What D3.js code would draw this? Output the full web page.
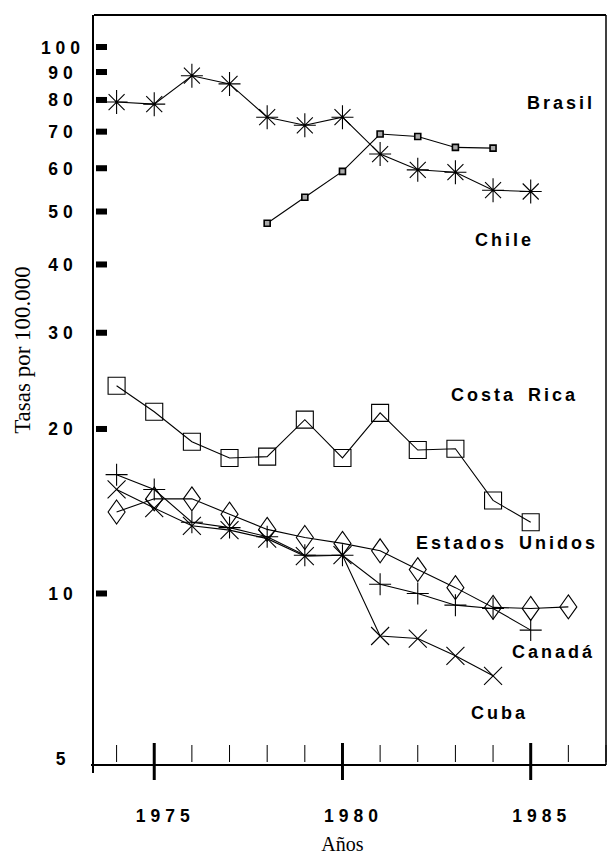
<!DOCTYPE html>
<html>
<head>
<meta charset="utf-8">
<script src="https://cdn.jsdelivr.net/npm/d3@7/dist/d3.min.js"></script>
<style>
  body { margin: 0; background: #fff; }
</style>
</head>
<body>
<svg id="canvas"></svg>
<script>
// tasas por 100.000, escala logaritmica
let years      = [1974, 1975, 1976, 1977, 1978, 1979, 1980, 1981, 1982, 1983, 1984, 1985, 1986]
let brasil     = [79.3, 78.6, 88.6, 85.6, 74.4, 71.9, 74.4, 63.7, 59.6, 59.0, 54.7, 54.4, null]
let chile      = [null, null, null, null, 47.6, 53.1, 59.2, 69.3, 68.6, 65.5, 65.3, null, null]
let costaRica  = [24.0, 21.5, 18.95, 17.7, 17.8, 20.8, 17.7, 21.4, 18.3, 18.4, 14.8, 13.5, null]
let eeuu       = [14.1, 14.9, 14.9, 13.97, 13.1, 12.66, 12.35, 11.97, 11.06, 10.25, 9.43, 9.39, 9.45]
let canada     = [16.5, 15.5, 13.5, 13.2, 12.7, 11.75, 11.75, 10.4, 10.0, 9.52, 9.39, 8.57, null]
let cuba       = [15.5, 14.33, 13.3, 13.06, 12.6, 11.7, 11.75, 8.36, 8.27, 7.69, 7.07, null, null]

let yTicks     = [5, 10, 20, 30, 40, 50, 60, 70, 80, 90, 100]
let xMajor     = [1975, 1980, 1985]
let xMinor     = [1974, 1976, 1977, 1978, 1979, 1981, 1982, 1983, 1984, 1986, 1987]

let seriesNames = ["Brasil", "Chile", "Costa Rica", "Estados Unidos", "Canadá", "Cuba"]

let width = 611
let height = 856
let plotTop = 15
let plotBottom = 765
let plotLeft = 94
let plotRight = 606

let canvas = d3.select("#canvas")
               .attr("width", width)
               .attr("height", height)

let x = d3.scaleLinear().domain([1973.4, 1987]).range([plotLeft, plotRight])
let y = d3.scaleLog().domain([5, 100]).range([758, 47])

// marker shapes
let shapes = {
  asterisk: "M0,-12V12M-11,0H11M-8,-8L8,8M-8,8L8,-8",
  plus: "M0,-11V11M-11,0H11",
  cross: "M-9,-9L9,9M-9,9L9,-9",
  diamond: "M0,-12L8.5,0L0,12L-8.5,0Z",
  bigSquare: "M-8.5,-8.5H8.5V8.5H-8.5Z",
  smallSquare: "M-3,-3H3V3H-3Z"
}

let series = [
  { values: brasil, shape: "asterisk" },
  { values: chile, shape: "smallSquare" },
  { values: costaRica, shape: "bigSquare" },
  { values: eeuu, shape: "diamond" },
  { values: canada, shape: "plus" },
  { values: cuba, shape: "cross" }
]

// where the names sit (left x, baseline y)
let labelPos = [[527, 109], [475, 246], [451, 401], [416, 549], [512, 658], [471, 719]]

let sans = "'Liberation Sans', Arial, Helvetica, sans-serif"
let serif = "'Liberation Serif', 'Times New Roman', serif"

// frame
canvas.append("line")
      .attr("x1", plotLeft).attr("x2", plotRight).attr("y1", plotTop).attr("y2", plotTop)
      .attr("stroke", "#000").attr("stroke-width", 2)
canvas.append("line")
      .attr("x1", plotRight).attr("x2", plotRight).attr("y1", plotTop).attr("y2", plotBottom)
      .attr("stroke", "#000").attr("stroke-width", 1.5)
canvas.append("line")
      .attr("x1", plotLeft - 1).attr("x2", plotLeft - 1).attr("y1", plotTop).attr("y2", plotBottom + 8)
      .attr("stroke", "#000").attr("stroke-width", 2)
canvas.append("line")
      .attr("x1", plotLeft - 3).attr("x2", plotRight).attr("y1", plotBottom).attr("y2", plotBottom)
      .attr("stroke", "#000").attr("stroke-width", 2)

// y ticks: thick stubs
canvas.selectAll(".ytick")
      .data(yTicks.filter(d => d >= 10))
      .enter()
      .append("rect")
      .attr("class", "ytick")
      .attr("x", plotLeft + 2)
      .attr("y", d => y(d) - 3)
      .attr("width", 11)
      .attr("height", 6)
      .attr("fill", "#000")

canvas.selectAll(".ylab")
      .data(yTicks)
      .enter()
      .append("text")
      .attr("class", "ylab")
      .attr("x", 63)
      .attr("y", d => y(d) + 6.5)
      .attr("text-anchor", "middle")
      .attr("font-family", sans)
      .attr("font-weight", "bold")
      .attr("font-size", 17.5)
      .attr("letter-spacing", 5)
      .text(d => d)

// x ticks
canvas.selectAll(".xminor")
      .data(xMinor)
      .enter()
      .append("line")
      .attr("class", "xminor")
      .attr("x1", d => x(d)).attr("x2", d => x(d))
      .attr("y1", plotBottom - 20).attr("y2", plotBottom - 3)
      .attr("stroke", "#000").attr("stroke-width", 1)

canvas.selectAll(".xmajor")
      .data(xMajor)
      .enter()
      .append("line")
      .attr("class", "xmajor")
      .attr("x1", d => x(d)).attr("x2", d => x(d))
      .attr("y1", plotBottom - 22).attr("y2", plotBottom + 15)
      .attr("stroke", "#000").attr("stroke-width", 3)

canvas.selectAll(".xlab")
      .data(xMajor)
      .enter()
      .append("text")
      .attr("class", "xlab")
      .attr("x", d => x(d) + 11)
      .attr("y", 822)
      .attr("text-anchor", "middle")
      .attr("font-family", sans)
      .attr("font-weight", "bold")
      .attr("font-size", 17.5)
      .attr("letter-spacing", 5)
      .text(d => d)

// axis titles
canvas.append("text")
      .attr("transform", "translate(30,350) rotate(-90)")
      .attr("text-anchor", "middle")
      .attr("font-family", serif)
      .attr("font-size", 23)
      .text("Tasas por 100.000")

canvas.append("text")
      .attr("x", x(1980))
      .attr("y", 851)
      .attr("text-anchor", "middle")
      .attr("font-family", serif)
      .attr("font-size", 20)
      .text("Años")

// lines and markers
let line = d3.line()
             .defined(d => d[1] != null)
             .x(d => x(d[0]))
             .y(d => y(d[1]))

series.forEach(s => {
  let pts = years.map((yr, i) => [yr, s.values[i]])
  canvas.append("path")
        .attr("d", line(pts))
        .attr("fill", "none")
        .attr("stroke", "#000")
        .attr("stroke-width", 1.1)

  canvas.selectAll(null)
        .data(pts.filter(p => p[1] != null))
        .enter()
        .append("path")
        .attr("d", shapes[s.shape])
        .attr("transform", p => "translate(" + x(p[0]) + "," + y(p[1]) + ")")
        .attr("fill", s.shape == "smallSquare" ? "#aaa" : "none")
        .attr("stroke", "#000")
        .attr("stroke-width", s.shape == "smallSquare" ? 1.6 : 1.1)
})

// series names
canvas.selectAll(".name")
      .data(seriesNames)
      .enter()
      .append("text")
      .attr("class", "name")
      .attr("x", (d, i) => labelPos[i][0])
      .attr("y", (d, i) => labelPos[i][1])
      .attr("font-family", sans)
      .attr("font-weight", "bold")
      .attr("font-size", 18)
      .attr("letter-spacing", 3)
      .attr("word-spacing", 4)
      .text(d => d)
</script>
</body>
</html>
